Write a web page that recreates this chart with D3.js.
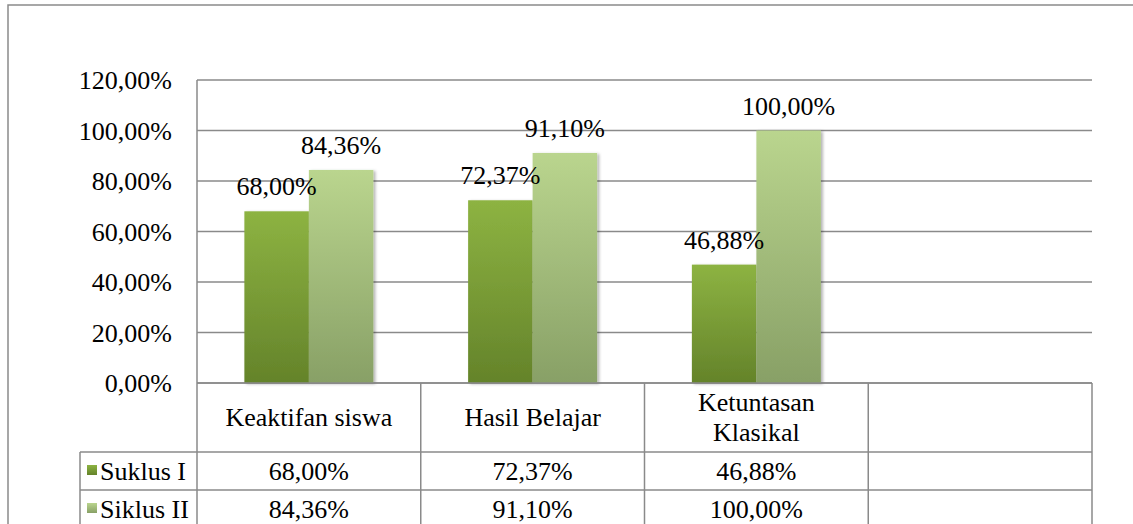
<!DOCTYPE html>
<html>
<head>
    <title>Keaktifan dan Hasil Belajar</title>
    <script src="https://d3js.org/d3.v7.min.js"></script>
    <style>
        body { margin: 0; background: #fff; }
        text { font-family: "Liberation Serif", "Times New Roman", serif; fill: #000; }
    </style>
</head>
<body>
    <script>
        // data
        var categories = ["Keaktifan siswa", "Hasil Belajar", "Ketuntasan Klasikal", ""];
        var seriesNames = ["Suklus I", "Siklus II"];
        var siklus1 = [68.00, 72.37, 46.88];
        var siklus2 = [84.36, 91.10, 100.00];
        var yTicks = [0, 20, 40, 60, 80, 100, 120];

        var width = 1133, height = 524;
        var svg = d3.select("body")
            .append("svg")
            .attr("width", width)
            .attr("height", height);

        var fmt = function (v) { return v.toFixed(2).replace(".", ",") + "%"; };
        var grid = "#8a8a8a";

        var defs = svg.append("defs");
        var grads = [["g1", "#8db342", "#64832a"], ["g2", "#bad58e", "#88a066"]];
        grads.forEach(function (g) {
            var lg = defs.append("linearGradient").attr("id", g[0])
                .attr("x1", 0).attr("y1", 0).attr("x2", 0).attr("y2", 1);
            lg.append("stop").attr("offset", "0%").attr("stop-color", g[1]);
            lg.append("stop").attr("offset", "100%").attr("stop-color", g[2]);
        });
        defs.append("filter").attr("id", "shadow")
            .attr("x", "-20%").attr("y", "-10%").attr("width", "140%").attr("height", "120%")
            .append("feDropShadow")
            .attr("dx", 2).attr("dy", 1).attr("stdDeviation", 1.5)
            .attr("flood-color", "#000").attr("flood-opacity", 0.3);

        // outer chart border
        svg.append("rect")
            .attr("x", 8).attr("y", 5)
            .attr("width", 1140).attr("height", 540)
            .attr("fill", "none").attr("stroke", grid).attr("stroke-width", 1.5);

        var x0 = d3.scaleBand().domain(categories).range([197, 1092]);
        var groupW = 129;
        var x1 = d3.scaleBand().domain(seriesNames).range([0, groupW]);
        var y = d3.scaleLinear().domain([0, 120]).range([383, 80]);

        // gridlines
        svg.append("g").selectAll("line")
            .data(yTicks).enter().append("line")
            .attr("x1", 197).attr("x2", 1092)
            .attr("y1", function (d) { return y(d); })
            .attr("y2", function (d) { return y(d); })
            .attr("stroke", grid).attr("stroke-width", 1.5);

        // y labels
        svg.append("g").selectAll("text")
            .data(yTicks).enter().append("text")
            .attr("x", 172)
            .attr("y", function (d) { return y(d) + 9; })
            .attr("text-anchor", "end")
            .attr("font-size", 26)
            .text(fmt);

        // bars
        var data = [siklus1, siklus2];
        var off = (x0.bandwidth() - groupW) / 2;
        data.forEach(function (vals, si) {
            var g = svg.append("g");
            g.selectAll("rect")
                .data(vals).enter().append("rect")
                .attr("x", function (d, i) { return x0(categories[i]) + off + x1(seriesNames[si]); })
                .attr("y", function (d) { return y(d); })
                .attr("width", x1.bandwidth())
                .attr("height", function (d) { return y(0) - y(d); })
                .attr("fill", "url(#g" + (si + 1) + ")")
                .attr("filter", "url(#shadow)");
        });
        data.forEach(function (vals, si) {
            svg.append("g").selectAll("text")
                .data(vals).enter().append("text")
                .attr("x", function (d, i) { return x0(categories[i]) + off + x1(seriesNames[si]) + x1.bandwidth() / 2; })
                .attr("y", function (d) { return y(d) - 16; })
                .attr("text-anchor", "middle")
                .attr("font-size", 26)
                .text(fmt);
        });

        // data table
        var tTop = 383, rowH = [69, 38, 38];
        var r1 = tTop + rowH[0], r2 = r1 + rowH[1], r3 = r2 + rowH[2];
        var legL = 80;
        var tbl = svg.append("g").attr("stroke", grid).attr("stroke-width", 1.5);
        // horizontal lines
        [[197, tTop], [legL, r1], [legL, r2], [legL, r3]].forEach(function (h) {
            tbl.append("line").attr("x1", h[0]).attr("x2", 1092).attr("y1", h[1]).attr("y2", h[1]);
        });
        // vertical lines
        var xs = categories.map(function (c) { return x0(c); }).concat([1092]);
        xs.forEach(function (xv) {
            tbl.append("line").attr("x1", xv).attr("x2", xv).attr("y1", xv === 197 ? 80 : tTop).attr("y2", r3);
        });
        tbl.append("line").attr("x1", legL).attr("x2", legL).attr("y1", r1).attr("y2", r3);

        // header labels
        categories.forEach(function (c) {
            if (!c) return;
            var cx = x0(c) + x0.bandwidth() / 2;
            var lines = c === "Ketuntasan Klasikal" ? ["Ketuntasan", "Klasikal"] : [c];
            lines.forEach(function (ln, li) {
                svg.append("text")
                    .attr("x", cx)
                    .attr("y", lines.length > 1 ? 411 + li * 30 : 426)
                    .attr("text-anchor", "middle")
                    .attr("font-size", 26)
                    .text(ln);
            });
        });

        // rows
        var rowBase = [r1 + 28, r2 + 28];
        data.forEach(function (vals, si) {
            svg.append("rect")
                .attr("x", legL + 7).attr("y", rowBase[si] - 15)
                .attr("width", 10).attr("height", 10)
                .attr("fill", "url(#g" + (si + 1) + ")");
            svg.append("text")
                .attr("x", 100).attr("y", rowBase[si])
                .attr("font-size", 26)
                .text(seriesNames[si]);
            svg.append("g").selectAll("text")
                .data(vals).enter().append("text")
                .attr("x", function (d, i) { return x0(categories[i]) + x0.bandwidth() / 2; })
                .attr("y", rowBase[si])
                .attr("text-anchor", "middle")
                .attr("font-size", 26)
                .text(fmt);
        });
    </script>
</body>
</html>
